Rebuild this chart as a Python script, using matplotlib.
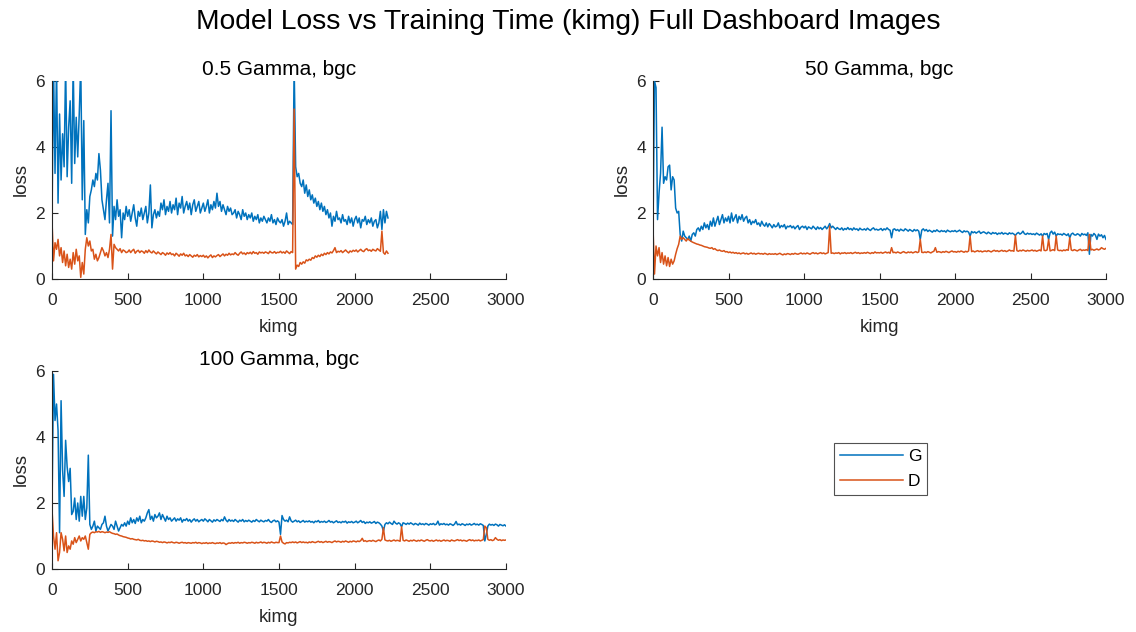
import numpy as np
import matplotlib
matplotlib.use("Agg")
import matplotlib.pyplot as plt

plt.rcParams['font.family'] = ['Liberation Sans', 'DejaVu Sans']

# ---------------- data (loss values sampled every 10 kimg) ----------------
KIMG_STEP = 10

# 0.5 Gamma, bgc  (0 .. 2220 kimg)
g_05 = [
    1.8, 6.5, 3.2, 6.5, 2.3, 5.0, 3.0, 4.4, 3.4, 6.5,
    3.1, 4.6, 5.4, 2.9, 6.5, 3.5, 4.9, 3.7, 5.0, 6.5,
    2.4, 4.8, 1.35, 2.1, 1.7, 2.5, 2.7, 3.0, 2.8, 3.2,
    3.0, 3.8, 3.3, 2.4, 2.1, 1.8, 2.4, 2.9, 1.7, 5.1,
    1.3, 2.2, 1.8, 2.4, 1.9, 2.1, 1.25, 2.0, 1.8, 2.2,
    1.9, 2.1, 1.75, 2.0, 2.25, 1.85, 1.6, 2.05, 1.9, 2.15,
    1.8, 2.0, 2.2, 1.7, 2.0, 2.85, 1.55, 1.95, 2.1, 1.85,
    2.05, 1.9, 2.3, 2.1, 2.4, 1.95, 2.2, 2.05, 2.35, 2.0,
    2.25, 2.1, 2.45, 1.95, 2.3, 2.15, 2.5, 2.0, 2.2, 2.35,
    2.1, 2.3, 1.95, 2.25, 2.4, 2.05, 2.2, 2.35, 2.0, 2.15,
    2.3, 2.05, 2.2, 2.4, 2.0, 2.25, 2.1, 2.35, 2.15, 2.6,
    2.2, 2.35, 2.05, 2.25, 2.1, 1.95, 2.2, 2.05, 2.15, 1.95,
    2.0, 2.1, 1.85, 2.05, 1.95, 1.8, 2.1, 1.9, 2.0, 1.8,
    1.95, 1.85, 2.0, 1.75, 1.9, 1.8, 1.95, 1.7, 1.85, 1.75,
    1.9, 1.8, 1.7, 1.85, 1.75, 1.95, 1.7, 1.8, 1.65, 1.85,
    1.75, 1.7, 1.8, 1.6, 1.75, 2.0, 1.65, 1.75, 1.7, 1.65,
    6.5, 3.4, 3.1, 3.2, 2.9, 2.8, 3.0, 2.6, 2.85, 2.5,
    2.7, 2.4, 2.55, 2.3, 2.45, 2.2, 2.35, 2.1, 2.3, 2.05,
    2.2, 1.95, 2.1, 1.85, 2.0, 1.6, 1.9, 1.75, 2.05, 1.8,
    1.85, 1.7, 1.95, 1.75, 1.8, 1.65, 1.9, 1.7, 1.85, 1.6,
    1.8, 1.9, 1.7, 1.85, 1.55, 1.8, 1.75, 1.9, 1.65, 1.8,
    1.7, 1.85, 1.6, 1.75, 1.8, 1.55, 1.7, 2.05, 1.5, 2.1,
    1.7, 2.05, 1.85,
]
d_05 = [
    1.75, 0.55, 1.1, 0.9, 1.2, 0.7, 0.95, 0.5, 0.85, 0.4,
    0.75, 0.35, 0.6, 0.3, 0.8, 0.45, 0.9, 0.55, 0.7, 0.05,
    0.5, 0.15, 0.9, 1.25, 1.0, 1.15, 0.85, 0.9, 0.6, 0.75,
    0.55, 0.65, 0.8, 0.95, 0.85, 0.7, 0.8, 0.65, 0.9, 1.35,
    0.3, 1.05, 0.95, 0.9, 0.85, 0.92, 0.8, 0.88, 0.85, 0.8,
    0.82, 0.88, 0.8, 0.86, 0.9, 0.78, 0.84, 0.87, 0.8, 0.85,
    0.83, 0.78, 0.86, 0.8, 0.88, 0.82, 0.79, 0.85, 0.8, 0.76,
    0.82, 0.78, 0.74, 0.8, 0.77, 0.72, 0.79, 0.75, 0.8, 0.74,
    0.76, 0.7, 0.78, 0.74, 0.69, 0.76, 0.72, 0.78, 0.7, 0.73,
    0.68, 0.74, 0.7, 0.66, 0.72, 0.69, 0.74, 0.67, 0.71, 0.68,
    0.72, 0.66, 0.7, 0.64, 0.69, 0.73, 0.65, 0.7, 0.67, 0.71,
    0.74, 0.68, 0.72, 0.76, 0.7, 0.75, 0.72, 0.78, 0.73, 0.76,
    0.74, 0.8, 0.75, 0.72, 0.78, 0.82, 0.76, 0.79, 0.74, 0.8,
    0.77, 0.81, 0.76, 0.83, 0.78, 0.8, 0.75, 0.82, 0.79, 0.81,
    0.78, 0.82, 0.8, 0.77, 0.84, 0.8, 0.79, 0.83, 0.78, 0.81,
    0.8, 0.84, 0.79, 0.82, 0.78, 0.85, 0.81, 0.77, 0.83, 0.8,
    5.15, 0.3, 0.42, 0.38, 0.5, 0.45, 0.52, 0.48, 0.58, 0.55,
    0.6, 0.57, 0.65, 0.62, 0.7, 0.66, 0.72, 0.68, 0.75, 0.71,
    0.78, 0.74, 0.8, 0.76, 0.82, 0.79, 0.86, 0.95, 0.8, 0.84,
    0.82, 0.86, 0.8, 0.84, 0.88, 0.83, 0.79, 0.85, 0.82, 0.87,
    0.84, 0.88, 0.82, 0.86, 0.9, 0.85, 0.83, 0.89, 0.92, 0.86,
    0.88, 0.84, 0.9, 0.87, 0.85, 0.92, 0.88, 0.84, 1.45, 0.8,
    0.75, 0.85, 0.78,
]

# 50 Gamma, bgc  (0 .. 3000 kimg)
g_50 = [
    1.5, 6.0, 5.8, 1.8, 2.6, 3.2, 4.6, 2.9, 3.1, 3.0,
    3.4, 3.45, 2.7, 3.1, 3.0, 2.15, 2.0, 2.05, 1.35, 1.15,
    1.45, 1.3, 1.25, 1.2, 1.3, 1.15, 1.35, 1.4, 1.3, 1.5,
    1.55, 1.45, 1.6, 1.5, 1.7, 1.55, 1.65, 1.5, 1.75, 1.6,
    1.85, 1.6, 1.75, 1.9, 1.65, 1.8, 1.95, 1.7, 1.85, 1.75,
    1.9, 1.7, 2.0, 1.75, 1.85, 1.95, 1.7, 1.9, 1.8, 1.95,
    1.75, 1.85, 1.9, 1.7, 1.8, 1.65, 1.75, 1.7, 1.8, 1.65,
    1.7, 1.6, 1.75, 1.65, 1.6, 1.7, 1.58, 1.68, 1.62, 1.55,
    1.65, 1.58, 1.6, 1.7, 1.55, 1.62, 1.58, 1.65, 1.52, 1.6,
    1.58, 1.62, 1.55, 1.6, 1.52, 1.58, 1.62, 1.5, 1.57, 1.6,
    1.55, 1.6, 1.5, 1.58, 1.55, 1.52, 1.6, 1.55, 1.5, 1.58,
    1.52, 1.56, 1.5, 1.55, 1.6, 1.52, 1.58, 1.68, 1.55, 1.6,
    1.55, 1.5, 1.56, 1.52, 1.5, 1.55, 1.48, 1.53, 1.5, 1.56,
    1.5, 1.53, 1.48, 1.55, 1.5, 1.52, 1.47, 1.54, 1.5, 1.49,
    1.52, 1.48, 1.54, 1.5, 1.47, 1.52, 1.55, 1.49, 1.51, 1.48,
    1.5, 1.53, 1.47, 1.52, 1.49, 1.55, 1.5, 1.48, 1.25, 1.5,
    1.52, 1.47, 1.5, 1.45, 1.51, 1.48, 1.46, 1.52, 1.49, 1.45,
    1.5, 1.47, 1.44, 1.5, 1.46, 1.49, 1.45, 1.2, 1.48, 1.52,
    1.46, 1.5, 1.44, 1.48, 1.45, 1.42, 1.47, 1.44, 1.49, 1.45,
    1.43, 1.47, 1.44, 1.46, 1.42, 1.48, 1.45, 1.43, 1.46, 1.44,
    1.47, 1.43, 1.45, 1.48, 1.44, 1.41, 1.46, 1.43, 1.45, 1.42,
    1.3, 1.44, 1.4, 1.43, 1.39, 1.42, 1.45, 1.38, 1.41, 1.43,
    1.4, 1.37, 1.42, 1.39, 1.36, 1.41, 1.38, 1.4, 1.35, 1.39,
    1.37, 1.41, 1.36, 1.39, 1.38, 1.35, 1.4, 1.37, 1.39, 1.36,
    1.32, 1.38, 1.41, 1.36, 1.39, 1.45, 1.37, 1.35, 1.39, 1.36,
    1.38, 1.35, 1.37, 1.34, 1.39, 1.36, 1.33, 1.37, 1.3, 1.38,
    1.35, 1.38, 1.2, 1.4, 1.45, 1.36, 1.42, 1.3, 1.37, 1.35,
    1.36, 1.33, 1.38, 1.35, 1.32, 1.37, 1.25, 1.36, 1.39, 1.34,
    1.33, 1.37, 1.35, 1.3, 1.38, 1.34, 1.36, 1.32, 1.4, 0.75,
    1.35, 1.3, 1.38, 1.33, 1.2, 1.36, 1.3, 1.34, 1.25, 1.32,
    1.2,
]
d_50 = [
    1.55, 0.15, 1.0, 0.7, 0.95, 0.5, 0.8, 0.45, 0.7, 0.4,
    0.65, 0.38, 0.6, 0.45, 0.55, 0.75, 0.92, 1.05, 1.3, 1.2,
    1.25, 1.2, 1.15, 1.22, 1.18, 1.15, 1.12, 1.1, 1.08, 1.06,
    1.05, 1.03, 1.02, 1.0, 0.98, 0.97, 0.96, 0.94, 0.93, 0.95,
    0.9, 0.92, 0.88, 0.86, 0.88, 0.85, 0.84, 0.86, 0.82, 0.83,
    0.8, 0.82, 0.79, 0.81, 0.78, 0.8, 0.77, 0.79, 0.76, 0.78,
    0.79, 0.76, 0.78, 0.75, 0.77, 0.79, 0.76, 0.78, 0.75, 0.77,
    0.78, 0.76, 0.77, 0.75, 0.78, 0.76, 0.74, 0.77, 0.75, 0.76,
    0.75, 0.77, 0.74, 0.76, 0.78, 0.75, 0.73, 0.76, 0.74, 0.77,
    0.76, 0.74, 0.77, 0.75, 0.78, 0.76, 0.75, 0.77, 0.79, 0.76,
    0.78, 0.76, 0.79, 0.77, 0.75, 0.78, 0.8, 0.77, 0.79, 0.76,
    0.78, 0.8, 0.77, 0.79, 0.76, 0.78, 0.8, 1.6, 0.78, 0.79,
    0.77, 0.79, 0.78, 0.8, 0.76, 0.79, 0.78, 0.8, 0.77, 0.79,
    0.78, 0.8, 0.77, 0.79, 0.81, 0.78, 0.8, 0.77, 0.79, 0.78,
    0.8, 0.78, 0.81, 0.79, 0.77, 0.8, 0.78, 0.82, 0.79, 0.8,
    0.79, 0.81, 0.78, 0.8, 0.82, 0.79, 0.81, 0.78, 0.95, 0.8,
    0.81, 0.79, 0.82, 0.8, 0.78, 0.81, 0.83, 0.8, 0.79, 0.82,
    0.8, 0.82, 0.79, 0.81, 0.83, 0.8, 0.82, 1.2, 0.81, 0.8,
    0.82, 0.8, 0.83, 0.81, 0.79, 0.82, 0.84, 0.95, 0.81, 0.83,
    0.82, 0.8, 0.83, 0.81, 0.84, 0.82, 0.8, 0.83, 0.85, 0.82,
    0.83, 0.81, 0.84, 0.82, 0.85, 0.83, 0.81, 0.84, 0.82, 0.85,
    1.3, 0.83, 0.85, 0.82, 0.84, 0.86, 0.83, 0.85, 0.82, 0.84,
    0.85, 0.83, 0.86, 0.84, 0.82, 0.85, 0.87, 0.84, 0.86, 0.83,
    0.85, 0.87, 0.84, 0.86, 0.83, 0.85, 0.88, 0.85, 0.86, 0.84,
    1.32, 0.86, 0.84, 0.87, 0.85, 0.88, 0.86, 0.84, 0.87, 0.85,
    0.86, 0.88, 0.85, 0.87, 0.84, 0.86, 0.88, 0.85, 1.3, 0.87,
    0.86, 0.88, 1.2, 0.85, 0.87, 0.89, 0.86, 1.3, 0.88, 0.86,
    0.87, 0.85, 0.88, 0.86, 0.89, 0.87, 1.25, 0.88, 0.86, 0.89,
    0.87, 0.85, 0.88, 0.9, 0.86, 0.88, 0.87, 0.89, 0.86, 1.35,
    0.88, 0.9, 0.87, 0.89, 0.91, 0.88, 0.9, 0.95, 0.92, 0.9,
    0.93,
]

# 100 Gamma, bgc  (0 .. 3000 kimg)
g_100 = [
    1.8, 5.9, 4.5, 5.0, 4.2, 1.1, 5.1, 3.0, 2.2, 3.9,
    3.1, 2.65, 3.05, 1.65, 1.75, 2.15, 1.5, 2.0, 1.45, 2.2,
    1.6, 2.2, 1.5, 1.85, 3.45, 1.35, 1.2, 1.3, 1.45, 1.15,
    1.3, 1.25, 1.2, 1.35, 1.4, 1.6, 1.3, 1.15, 1.25, 1.35,
    1.3, 1.2, 1.45, 1.3, 1.15, 1.25, 1.35, 1.3, 1.4, 1.3,
    1.45, 1.35, 1.55, 1.4, 1.5, 1.38, 1.55, 1.45, 1.6, 1.4,
    1.5, 1.45, 1.55, 1.7, 1.8, 1.5, 1.6, 1.45, 1.65, 1.55,
    1.6, 1.7, 1.5, 1.65, 1.55, 1.45, 1.6, 1.5, 1.55, 1.45,
    1.5, 1.55, 1.45, 1.52, 1.48, 1.55, 1.42, 1.5, 1.47, 1.53,
    1.45, 1.5, 1.42, 1.48, 1.52, 1.45, 1.5, 1.43, 1.47, 1.5,
    1.45, 1.52, 1.48, 1.43, 1.5, 1.46, 1.42, 1.49, 1.45, 1.5,
    1.47, 1.44, 1.5, 1.46, 1.58, 1.48, 1.43, 1.5, 1.45, 1.48,
    1.44, 1.5, 1.46, 1.42, 1.48, 1.45, 1.5, 1.43, 1.47, 1.44,
    1.48, 1.45, 1.42, 1.47, 1.44, 1.5, 1.46, 1.43, 1.48, 1.45,
    1.43, 1.47, 1.45, 1.5, 1.44, 1.41, 1.46, 1.48, 1.43, 1.46,
    1.42, 1.05, 1.62, 1.5, 1.45, 1.48, 1.43, 1.58, 1.46, 1.42,
    1.45, 1.48, 1.43, 1.46, 1.41, 1.44, 1.47, 1.42, 1.45, 1.43,
    1.46, 1.42, 1.44, 1.4, 1.45, 1.43, 1.47, 1.41, 1.44, 1.42,
    1.45, 1.41, 1.43, 1.47, 1.42, 1.44, 1.4, 1.43, 1.46, 1.41,
    1.43, 1.4, 1.44, 1.42, 1.45, 1.39, 1.43, 1.41, 1.44, 1.4,
    1.42, 1.45, 1.4, 1.43, 1.47, 1.41, 1.44, 1.38, 1.42, 1.4,
    1.43, 1.39, 1.41, 1.44, 1.38, 1.42, 1.4, 1.36, 1.3, 1.15,
    1.35, 1.4, 1.37, 1.42, 1.38, 1.35, 1.45, 1.39, 1.36, 1.4,
    1.37, 1.28, 1.4, 1.38, 1.35, 1.39, 1.36, 1.4, 1.37, 1.34,
    1.38, 1.36, 1.33, 1.39, 1.35, 1.37, 1.34, 1.38, 1.36, 1.33,
    1.37, 1.35, 1.38, 1.34, 1.36, 1.45, 1.33, 1.37, 1.35, 1.38,
    1.34, 1.36, 1.33, 1.37, 1.35, 1.32, 1.36, 1.44, 1.34, 1.36,
    1.33, 1.37, 1.35, 1.32, 1.36, 1.34, 1.37, 1.33, 1.35, 1.38,
    1.34, 1.36, 1.33, 1.37, 1.35, 1.32, 0.85, 1.05, 1.3, 1.36,
    1.33, 1.35, 1.32, 1.36, 1.34, 1.3, 1.35, 1.33, 1.31, 1.34,
    1.3,
]
d_100 = [
    1.8, 1.0, 0.6, 1.1, 0.25, 0.5, 1.1, 0.9, 0.55, 1.0,
    0.5, 0.7, 0.6, 0.85, 0.75, 0.95, 0.8, 0.9, 1.0, 0.85,
    0.95, 0.9, 1.0, 0.8, 0.6, 1.05, 1.1, 1.12, 1.1, 1.13,
    1.12, 1.14, 1.11, 1.13, 1.12, 1.1, 1.12, 1.11, 1.13, 1.1,
    1.08, 1.07, 1.05, 1.06, 1.03, 1.01, 1.0, 0.98, 0.97, 0.96,
    0.94, 0.93, 0.91, 0.92, 0.9, 0.89, 0.88, 0.9, 0.87, 0.86,
    0.87, 0.85, 0.86, 0.84, 0.85, 0.83, 0.85, 0.84, 0.82, 0.84,
    0.83, 0.81, 0.82, 0.8, 0.82, 0.81, 0.79, 0.81, 0.8, 0.82,
    0.8, 0.79, 0.81, 0.8, 0.78, 0.8, 0.81, 0.79, 0.8, 0.78,
    0.8, 0.79, 0.78, 0.8, 0.79, 0.81, 0.78, 0.8, 0.79, 0.77,
    0.79, 0.78, 0.8, 0.77, 0.79, 0.78, 0.8, 0.78, 0.77, 0.79,
    0.78, 0.8, 0.77, 0.79, 0.78, 0.74, 0.77, 0.79, 0.78, 0.8,
    0.78, 0.8, 0.79, 0.81, 0.78, 0.8, 0.79, 0.81, 0.8, 0.78,
    0.8, 0.79, 0.81, 0.8, 0.78, 0.81, 0.79, 0.8, 0.82, 0.79,
    0.81, 0.8, 0.78, 0.81, 0.79, 0.82, 0.8, 0.79, 0.81, 0.8,
    0.8, 1.0, 0.82, 0.78, 0.76, 0.8, 0.79, 0.81, 0.8, 0.82,
    0.8, 0.82, 0.79, 0.81, 0.83, 0.8, 0.82, 0.8, 0.81, 0.79,
    0.82, 0.8, 0.83, 0.81, 0.8, 0.82, 0.84, 0.81, 0.83, 0.8,
    0.82, 0.84, 0.81, 0.83, 0.82, 0.8, 0.83, 0.85, 0.82, 0.84,
    0.83, 0.81, 0.84, 0.82, 0.85, 0.83, 0.81, 0.84, 0.82, 0.85,
    0.84, 0.82, 0.85, 0.83, 0.86, 0.93, 0.84, 0.86, 0.83, 0.85,
    0.86, 0.84, 0.87, 0.85, 0.83, 0.86, 0.88, 0.85, 0.9, 1.25,
    0.88, 0.86, 0.85, 0.87, 0.84, 0.86, 0.88, 0.85, 0.87, 0.86,
    0.84, 1.28, 0.87, 0.85, 0.88, 0.86, 0.84, 0.87, 0.85, 0.88,
    0.86, 0.84, 0.87, 0.85, 0.88, 0.86, 0.84, 0.87, 0.89, 0.86,
    0.85, 0.87, 0.84, 0.86, 0.88, 0.85, 0.87, 0.84, 0.86, 0.88,
    0.85, 0.87, 0.86, 0.84, 0.88, 0.86, 0.85, 0.87, 0.89, 0.86,
    0.88, 0.85, 0.87, 0.86, 0.84, 0.87, 0.89, 0.86, 0.88, 0.85,
    0.87, 0.86, 0.88, 0.85, 0.87, 0.89, 1.3, 1.25, 0.9, 0.87,
    0.89, 0.86, 0.88, 0.95, 0.9, 0.87, 0.89, 0.86, 0.88, 0.87,
    0.88,
]

panel_titles = ["0.5 Gamma, bgc", "50 Gamma, bgc", "100 Gamma, bgc"]
series_names = ["G", "D"]
x_ticks = [0, 500, 1000, 1500, 2000, 2500, 3000]
y_ticks = [0, 2, 4, 6]

# ---------------- styling ----------------
C_G = '#0072BD'
C_D = '#D95319'
AX_COL = '#262626'
TICK_FS = 12.5
TITLE_FS = 15
W, H = 1136, 632

fig = plt.figure(figsize=(W / 100, H / 100), dpi=100)
fig.patch.set_facecolor('white')

def px_axes(l, t, r, b):
    return fig.add_axes([l / W, 1 - b / H, (r - l) / W, (b - t) / H])

axes = [px_axes(52, 81, 506, 279),
        px_axes(653, 81, 1106, 279),
        px_axes(52, 371, 506, 569)]

data = [(g_05, d_05), (g_50, d_50), (g_100, d_100)]
handles = None
for ax, title, (g, d) in zip(axes, panel_titles, data):
    kg = np.arange(len(g)) * KIMG_STEP
    kd = np.arange(len(d)) * KIMG_STEP
    hg, = ax.plot(kg, g, color=C_G, lw=1.1, label=series_names[0])
    hd, = ax.plot(kd, d, color=C_D, lw=1.1, label=series_names[1])
    handles = [hg, hd]
    ax.set_xlim(0, 3000)
    ax.set_ylim(0, 6)
    ax.set_xticks(x_ticks)
    ax.set_yticks(y_ticks)
    ax.set_title(title, fontsize=TITLE_FS, color='black', pad=4)
    ax.set_xlabel('kimg', fontsize=TICK_FS + 1, color=AX_COL, labelpad=8)
    ax.set_ylabel('loss', fontsize=TICK_FS + 1, color=AX_COL, labelpad=4)
    for s in ['top', 'right']:
        ax.spines[s].set_visible(False)
    for s in ['left', 'bottom']:
        ax.spines[s].set_color(AX_COL)
        ax.spines[s].set_linewidth(0.8)
    ax.tick_params(direction='in', length=4, width=0.8, colors=AX_COL,
                   labelsize=TICK_FS)
    ax.tick_params(axis='x', pad=10)
    ax.tick_params(axis='y', pad=5)

fig.suptitle('Model Loss vs Training Time (kimg) Full Dashboard Images',
             fontsize=20.3, y=1 - 22 / H, va='center')

leg = fig.legend(handles=handles, labels=series_names,
                 loc='upper left', bbox_to_anchor=(834 / W, 1 - 443 / H),
                 fontsize=TICK_FS, frameon=True, fancybox=False,
                 edgecolor=AX_COL, handlelength=3.6, handletextpad=0.3,
                 borderpad=0.35, labelspacing=0.55, borderaxespad=0)
leg.get_frame().set_linewidth(0.8)

fig.savefig('out.png', dpi=100, facecolor='white')
